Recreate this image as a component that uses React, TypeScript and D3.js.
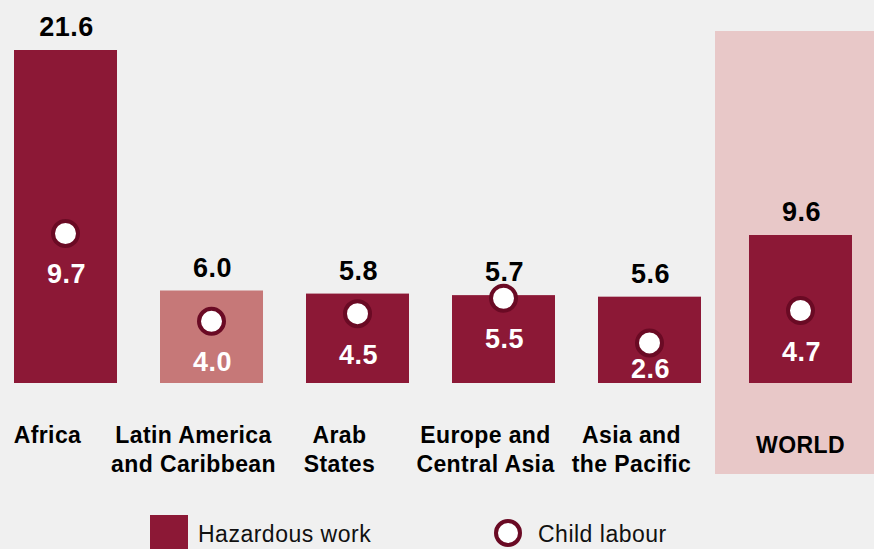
import React from "react";
import * as d3 from "d3";

const categories: string[][] = [
  ["Africa"],
  ["Latin America", "and Caribbean"],
  ["Arab", "States"],
  ["Europe and", "Central Asia"],
  ["Asia and", "the Pacific"],
  ["WORLD"],
];
const hazardousWork = [21.6, 6.0, 5.8, 5.7, 5.6, 9.6];
const childLabour = [9.7, 4.0, 4.5, 5.5, 2.6, 4.7];
const highlightLight = [false, true, false, false, false, false];
const isWorld = [false, false, false, false, false, true];
const legendLabels = ["Hazardous work", "Child labour"];

const W = 874;
const H = 549;
const BAR = "#8c1836";
const BAR_LIGHT = "#c67878";
const WORLD_BG = "#e8c8c8";
const PAGE_BG = "#f0f0f0";
const RING = "#6a0a24";
const FONT = "'Liberation Sans', Arial, Helvetica, sans-serif";

export default function App() {
  const idx = categories.map((_, i) => String(i));
  const x = d3.scaleBand<string>().domain(idx).range([14, 847]).paddingInner(0.2945).paddingOuter(0);
  const y = d3.scaleLinear().domain([0, d3.max(hazardousWork) as number]).range([383, 50]);
  const worldShift = 5;
  const bx = (i: number) => (x(String(i)) as number) + (isWorld[i] ? worldShift : 0);
  const bw = x.bandwidth();

  return (
    <svg
      width={W}
      height={H}
      style={{ position: "absolute", left: 0, top: 0, display: "block" }}
      fontFamily={FONT}
    >
      <rect x={0} y={0} width={W} height={H} fill={PAGE_BG} />
      {categories.map((_, i) =>
        isWorld[i] ? (
          <rect key={"bg" + i} x={bx(i) - 34} y={31} width={W - (bx(i) - 34)} height={443} fill={WORLD_BG} />
        ) : null
      )}
      {hazardousWork.map((v, i) => {
        const cx = bx(i) + bw / 2;
        const top = y(v);
        const cy = y(childLabour[i]);
        const labelY = Math.min(cy + 50, y(0) - 5);
        return (
          <g key={"b" + i}>
            <rect x={bx(i)} y={top} width={bw} height={y(0) - top} fill={highlightLight[i] ? BAR_LIGHT : BAR} />
            <text x={cx + 1} y={top - 14} textAnchor="middle" fontSize={27} fontWeight="bold" fill="#000" letterSpacing={0.5}>
              {v.toFixed(1)}
            </text>
            <circle cx={cx} cy={cy} r={12.5} fill="#fff" stroke={RING} strokeWidth={4} />
            <text x={cx + 1} y={labelY} textAnchor="middle" fontSize={27} fontWeight="bold" fill="#fff" letterSpacing={0.5}>
              {childLabour[i].toFixed(1)}
            </text>
          </g>
        );
      })}
      {categories.map((lines, i) => {
        const cx = bx(i) + bw / 2 - (isWorld[i] ? 0 : 18);
        const y0 = isWorld[i] ? 453 : 443;
        return (
          <text key={"l" + i} x={cx} y={y0} textAnchor="middle" fontSize={23} fontWeight="bold" fill="#000" letterSpacing={0.4}>
            {lines.map((ln, j) => (
              <tspan key={j} x={cx} y={y0 + j * 29}>
                {ln}
              </tspan>
            ))}
          </text>
        );
      })}
      <g>
        <rect x={150} y={515} width={38} height={40} fill={BAR} />
        <text x={198} y={542} fontSize={23} fill="#111" letterSpacing={0.5}>
          {legendLabels[0]}
        </text>
        <circle cx={508} cy={533} r={12} fill="#fff" stroke={RING} strokeWidth={4} />
        <text x={538} y={542} fontSize={23} fill="#111" letterSpacing={0.5}>
          {legendLabels[1]}
        </text>
      </g>
    </svg>
  );
}
